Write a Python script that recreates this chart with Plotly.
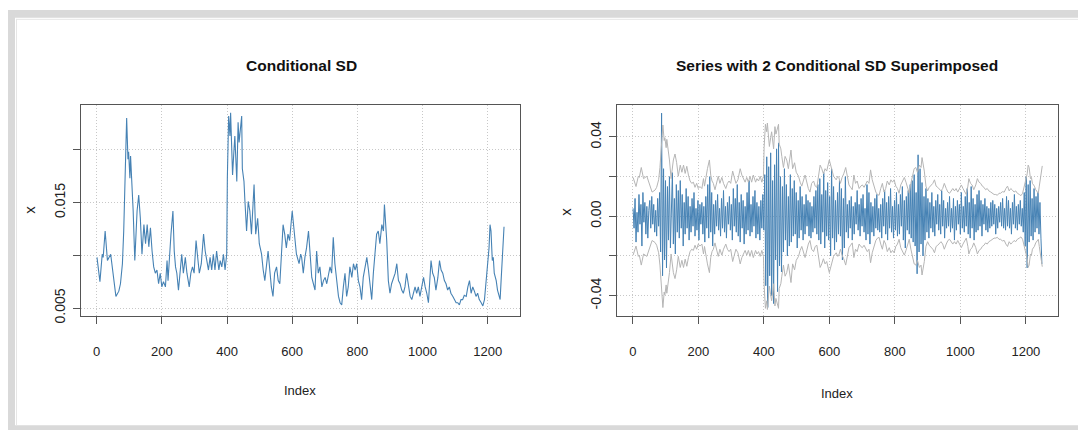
import plotly.graph_objects as go

# ---------------- data ----------------
sd_index = [1, 10, 17, 20, 26, 33, 43, 48, 59, 68, 73, 79, 83, 92, 96, 98, 102, 104, 109, 112,
            117, 119, 124, 129, 134, 139, 145, 150, 155, 160, 165, 170, 175, 180, 185, 190, 195, 200, 205, 211,
            216, 219, 224, 228, 234, 238, 242, 246, 251, 256, 261, 266, 272, 277, 284, 289, 294, 299, 305, 309,
            315, 321, 328, 333, 338, 343, 348, 353, 358, 363, 368, 375, 379, 384, 389, 394, 399, 401, 405, 409,
            411, 414, 417, 421, 424, 430, 434, 437, 445, 447, 452, 455, 460, 465, 470, 475, 480, 483, 488, 494,
            499, 506, 511, 516, 526, 531, 536, 541, 546, 552, 557, 562, 567, 572, 577, 582, 587, 592, 600, 605,
            613, 621, 626, 629, 634, 639, 644, 650, 655, 660, 665, 670, 675, 680, 685, 691, 696, 701, 706, 711,
            716, 721, 726, 731, 737, 742, 747, 752, 757, 762, 767, 772, 777, 783, 788, 793, 798, 803, 808, 813,
            818, 824, 829, 834, 839, 844, 849, 854, 859, 864, 869, 875, 880, 883, 886, 890, 895, 900, 905, 911,
            916, 921, 926, 931, 936, 941, 946, 951, 957, 962, 967, 972, 977, 982, 987, 992, 997, 1003, 1008, 1013,
            1018, 1023, 1026, 1031, 1036, 1041, 1047, 1052, 1057, 1062, 1067, 1072, 1077, 1082, 1087, 1093, 1098, 1103, 1108, 1113,
            1118, 1123, 1128, 1134, 1139, 1144, 1149, 1154, 1159, 1164, 1169, 1174, 1180, 1185, 1190, 1195, 1200, 1204, 1207, 1210,
            1214, 1217, 1220, 1226, 1230, 1235, 1238, 1241, 1244, 1248, 1250]
sd_value = [0.0098, 0.0075, 0.0101, 0.0098, 0.0123, 0.0095, 0.0101, 0.0089, 0.0061, 0.0066, 0.0073, 0.0092, 0.0123, 0.0230, 0.0191, 0.0198, 0.0173, 0.0194, 0.0167, 0.0142,
            0.0095, 0.0108, 0.0142, 0.0157, 0.0135, 0.0101, 0.0129, 0.0111, 0.0129, 0.0108, 0.0126, 0.0104, 0.0089, 0.0083, 0.0086, 0.0073, 0.0083, 0.0070, 0.0075, 0.0070,
            0.0095, 0.0076, 0.0104, 0.0120, 0.0142, 0.0104, 0.0089, 0.0083, 0.0067, 0.0089, 0.0101, 0.0083, 0.0098, 0.0083, 0.0070, 0.0083, 0.0089, 0.0083, 0.0114, 0.0101,
            0.0083, 0.0092, 0.0120, 0.0104, 0.0095, 0.0086, 0.0098, 0.0086, 0.0101, 0.0086, 0.0104, 0.0086, 0.0095, 0.0089, 0.0101, 0.0086, 0.0101, 0.0173, 0.0232, 0.0213,
            0.0235, 0.0204, 0.0176, 0.0198, 0.0213, 0.0170, 0.0226, 0.0207, 0.0232, 0.0182, 0.0170, 0.0151, 0.0123, 0.0151, 0.0142, 0.0120, 0.0145, 0.0167, 0.0120, 0.0135,
            0.0111, 0.0101, 0.0086, 0.0076, 0.0104, 0.0083, 0.0070, 0.0061, 0.0083, 0.0089, 0.0076, 0.0073, 0.0098, 0.0129, 0.0120, 0.0107, 0.0120, 0.0114, 0.0142, 0.0126,
            0.0101, 0.0092, 0.0101, 0.0098, 0.0083, 0.0098, 0.0107, 0.0123, 0.0098, 0.0079, 0.0073, 0.0067, 0.0104, 0.0083, 0.0089, 0.0070, 0.0076, 0.0079, 0.0073, 0.0083,
            0.0089, 0.0083, 0.0117, 0.0092, 0.0076, 0.0061, 0.0055, 0.0053, 0.0070, 0.0083, 0.0061, 0.0070, 0.0089, 0.0079, 0.0092, 0.0086, 0.0092, 0.0076, 0.0070, 0.0058,
            0.0079, 0.0092, 0.0098, 0.0086, 0.0070, 0.0058, 0.0083, 0.0104, 0.0120, 0.0123, 0.0111, 0.0129, 0.0123, 0.0148, 0.0135, 0.0114, 0.0076, 0.0064, 0.0073, 0.0079,
            0.0083, 0.0092, 0.0076, 0.0073, 0.0067, 0.0064, 0.0070, 0.0083, 0.0070, 0.0061, 0.0058, 0.0064, 0.0070, 0.0064, 0.0070, 0.0061, 0.0070, 0.0079, 0.0070, 0.0064,
            0.0055, 0.0076, 0.0095, 0.0083, 0.0079, 0.0067, 0.0079, 0.0095, 0.0086, 0.0083, 0.0076, 0.0073, 0.0067, 0.0070, 0.0064, 0.0061, 0.0058, 0.0055, 0.0055, 0.0053,
            0.0058, 0.0058, 0.0062, 0.0061, 0.0070, 0.0076, 0.0064, 0.0070, 0.0066, 0.0061, 0.0064, 0.0058, 0.0055, 0.0052, 0.0058, 0.0076, 0.0092, 0.0107, 0.0129, 0.0123,
            0.0095, 0.0098, 0.0083, 0.0076, 0.0067, 0.0061, 0.0058, 0.0076, 0.0098, 0.0120, 0.0127]

# returns, one value every 3rd observation
ret_value = [
    .004, -.006, .009, -.013, .002, -.008, .011, -.004, .006, -.015,
    .012, -.003, .007, -.009, .005, -.011, .003, .008, -.006, .010,
    -.004, .006, -.008, .003, -.010, .009, -.005, .012, -.018, .052,
    -.030, .024, -.022, .018, -.026, .015, -.012, .020, -.016, .010,
    .022, -.014, .009, -.019, .016, -.008, .013, -.011, .018, -.006,
    .011, -.015, .007, -.009, .014, -.006, .010, -.012, .005, -.008,
    .009, -.005, .012, -.010, .004, -.007, .008, -.012, .006, -.004,
    .007, -.009, .005, -.013, .010, -.006, .016, -.011, .020, -.008,
    .012, -.015, .006, -.009, .008, -.005, .011, -.007, .004, -.010,
    .009, -.006, .013, -.008, .005, -.011, .007, -.004, .010, -.007,
    .006, -.012, .014, -.005, .009, -.008, .016, -.010, .007, -.013,
    .011, -.006, .008, -.014, .005, -.009, .012, -.007, .018, -.010,
    .006, -.008, .010, -.005, .013, -.011, .007, -.009, .005, -.012,
    .008, -.006, .011, -.007, .021, -.035, .030, -.046, .025, -.030,
    .032, -.040, .018, -.044, .026, -.022, .034, -.038, .037, -.025,
    .020, -.028, .015, -.018, .024, -.012, .016, -.020, .010, -.015,
    .021, -.013, .014, -.010, .018, -.009, .012, -.016, .008, -.011,
    .015, -.007, .010, -.012, .006, -.009, .011, -.005, .008, -.010,
    .007, -.011, .005, -.008, .010, -.006, .013, -.009, .016, -.012,
    .019, -.014, .011, -.008, .022, -.016, .013, -.010, .017, -.012,
    .010, -.020, .024, -.011, .015, -.017, .008, -.013, .012, -.009,
    .018, -.010, .014, -.022, .009, -.016, .020, -.008, .006, -.011,
    .008, -.006, .010, -.012, .005, -.009, .007, -.004, .013, -.007,
    .006, -.010, .009, -.005, .011, -.008, .004, -.012, .016, -.009,
    .012, -.014, .007, -.008, .005, -.010, .009, -.006, .011, -.007,
    .004, -.008, .006, -.011, .009, -.005, .013, -.009, .007, -.012,
    .010, -.006, .014, -.008, .005, -.011, .008, -.007, .012, -.010,
    .006, -.009, .011, -.005, .015, -.012, .008, -.016, .010, -.007,
    .013, -.009, .016, -.011, .018, -.013, .021, -.015, .012, -.029,
    .031, -.018, .024, -.014, .017, -.020, .010, -.012, .014, -.008,
    .009, -.011, .007, -.006, .012, -.008, .005, -.010, .008, -.004,
    .011, -.007, .006, -.009, .013, -.005, .008, -.011, .004, -.006,
    .007, -.005, .010, -.008, .004, -.006, .009, -.012, .005, -.007,
    .008, -.004, .006, -.009, .012, -.006, .005, -.008, .010, -.005,
    .014, -.009, .007, -.011, .015, -.006, .009, -.012, .006, -.008,
    .011, -.007, .013, -.005, .008, -.010, .006, -.004, .009, -.007,
    .005, -.008, .004, -.006, .007, -.005, .008, -.004, .006, -.009,
    .004, -.006, .005, -.003, .007, -.005, .009, -.006, .004, -.007,
    .010, -.005, .008, -.006, .004, -.009, .007, -.004, .011, -.006,
    .005, -.007, .006, -.004, .008, -.005, .004, -.008, .012, -.015,
    .020, -.026, .016, -.013, .018, -.010, .009, -.012, .014, -.008,
    .010, -.006, .012, -.009, .007, -.011, -.024]
ret_index = [1 + 3 * i for i in range(len(ret_value))]

x_ticks = [0, 200, 400, 600, 800, 1000, 1200]
x_ticktext = ["0", "200", "400", "600", "800", "1000", "1200"]
sd_ticks = [0.005, 0.010, 0.015, 0.020]
sd_ticktext = ["0.005", "", "0.015", ""]
ret_ticks = [-0.04, -0.02, 0.0, 0.02, 0.04]
ret_ticktext = ["-0.04", "", "0.00", "", "0.04"]

titles = ["Conditional SD", "Series with 2 Conditional SD Superimposed"]

# ---------------- styling ----------------
W, H = 1086, 436
OFF = 8  # the page body margin shifts the figure by 8px
BLUE = "#4682B4"
GREY = "#B5B5B5"
AXC = "#555555"
FONT = "Liberation Sans, Arial, sans-serif"


def fx(p):
    return (p - OFF) / W


def fy(p):
    return 1 - (p - OFF) / H


fig = go.Figure()
fig.add_trace(go.Scatter(x=sd_index, y=sd_value, mode="lines",
                         line=dict(color=BLUE, width=1.1), xaxis="x", yaxis="y",
                         showlegend=False, hoverinfo="skip"))
fig.add_trace(go.Scatter(x=ret_index, y=ret_value, mode="lines",
                         line=dict(color=BLUE, width=1), xaxis="x2", yaxis="y2",
                         showlegend=False, hoverinfo="skip"))
fig.add_trace(go.Scatter(x=sd_index, y=[2 * v for v in sd_value], mode="lines",
                         line=dict(color=GREY, width=1), xaxis="x2", yaxis="y2",
                         showlegend=False, hoverinfo="skip"))
fig.add_trace(go.Scatter(x=sd_index, y=[-2 * v for v in sd_value], mode="lines",
                         line=dict(color=GREY, width=1), xaxis="x2", yaxis="y2",
                         showlegend=False, hoverinfo="skip"))

common_x = dict(range=[-49, 1299], tickmode="array", tickvals=x_ticks, ticktext=x_ticktext,
                ticks="outside", ticklen=7, tickcolor=AXC, tickwidth=1,
                showline=True, mirror=True, linecolor=AXC, linewidth=1,
                showgrid=True, gridcolor="#C8C8C8", griddash="1px,2px", gridwidth=1,
                zeroline=False, ticklabelstandoff=16,
                tickfont=dict(family=FONT, size=13, color="#222222"))
common_y = dict(tickmode="array", ticks="outside", ticklen=7, tickcolor=AXC, tickwidth=1,
                showline=True, mirror=True, linecolor=AXC, linewidth=1,
                showgrid=True, gridcolor="#C8C8C8", griddash="1px,2px", gridwidth=1,
                zeroline=False, tickangle=-90, ticklabelstandoff=2,
                tickfont=dict(family=FONT, size=14, color="#222222"))

ydom = [fy(321.3), fy(107.0)]
fig.update_layout(
    width=W, height=H, autosize=False,
    margin=dict(l=0, r=0, t=0, b=0),
    paper_bgcolor="white", plot_bgcolor="white",
    xaxis=dict(domain=[fx(80.7), fx(520)], anchor="y", **common_x),
    yaxis=dict(domain=ydom, anchor="x", range=[0.00422, 0.0242],
               tickvals=sd_ticks, ticktext=sd_ticktext, **common_y),
    xaxis2=dict(domain=[fx(616.7), fx(1058.3)], anchor="y2", **common_x),
    yaxis2=dict(domain=ydom, anchor="x2", range=[-0.0504, 0.0559],
                tickvals=ret_ticks, ticktext=ret_ticktext, **common_y),
)

ann = []
for cx, t in [(301, titles[0]), (837, titles[1])]:
    ann.append(dict(x=fx(cx), y=fy(66), xref="paper", yref="paper", text="<b>" + t + "</b>",
                    showarrow=False, xanchor="center", yanchor="middle",
                    font=dict(family=FONT, size=15.5, color="#111111")))
for cx, cy in [(300, 397), (837, 400)]:
    ann.append(dict(x=fx(cx), y=fy(cy), xref="paper", yref="paper", text="Index",
                    showarrow=False, xanchor="center", yanchor="middle",
                    font=dict(family=FONT, size=13, color="#222222")))
for cx, cy in [(30, 213), (566, 215)]:
    ann.append(dict(x=fx(cx), y=fy(cy), xref="paper", yref="paper", text="x", textangle=-90,
                    showarrow=False, xanchor="center", yanchor="middle",
                    font=dict(family=FONT, size=15, color="#222222")))
fig.update_layout(annotations=ann)

# outer frame of the screenshot
FRAME = "#D9D9D9"
shapes = [
    dict(type="rect", xref="paper", yref="paper", x0=fx(8), x1=fx(1094), y0=fy(18), y1=fy(10),
         fillcolor=FRAME, line=dict(width=0), layer="above"),
    dict(type="rect", xref="paper", yref="paper", x0=fx(8), x1=fx(15), y0=fy(436), y1=fy(10),
         fillcolor=FRAME, line=dict(width=0), layer="above"),
    dict(type="rect", xref="paper", yref="paper", x0=fx(8), x1=fx(1094), y0=fy(437), y1=fy(432),
         fillcolor=FRAME, line=dict(width=0), layer="above"),
    dict(type="line", xref="paper", yref="paper", x0=fx(16.5), x1=fx(16.5), y0=fy(432), y1=fy(19),
         line=dict(color="#E6E6E6", width=1)),
    dict(type="line", xref="paper", yref="paper", x0=fx(16.5), x1=fx(1094), y0=fy(19.5), y1=fy(19.5),
         line=dict(color="#E6E6E6", width=1)),
]
fig.update_layout(shapes=shapes)

fig.write_html("out.html")
